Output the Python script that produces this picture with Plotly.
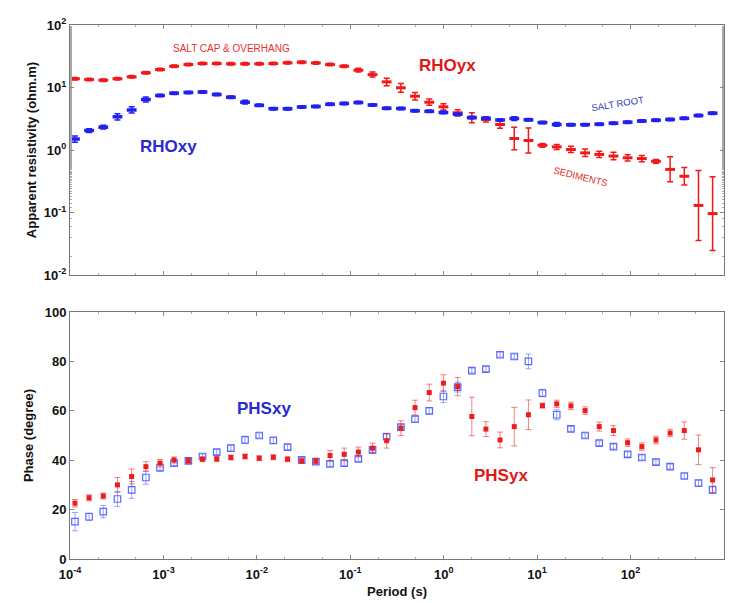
import numpy as np
import plotly.graph_objects as go
from plotly.subplots import make_subplots

# Periods (s)
period = [1.13e-4, 1.60e-4, 2.27e-4, 3.22e-4, 4.57e-4, 6.49e-4, 9.19e-4, 1.30e-3, 1.85e-3, 2.62e-3,
          3.72e-3, 5.27e-3, 7.47e-3, 1.06e-2, 1.50e-2, 2.13e-2, 3.02e-2, 4.28e-2, 6.07e-2, 8.61e-2,
          0.122, 0.173, 0.245, 0.348, 0.493, 0.700, 0.993, 1.41, 2.00, 2.83,
          4.01, 5.69, 8.07, 11.4, 16.2, 23.0, 32.6, 46.2, 65.6, 93.0,
          132, 187, 265, 376, 533, 755]

# Apparent resistivity (ohm.m)
rho_yx = [13.8, 13.4, 13.1, 13.8, 14.8, 17.2, 19.4, 21.9, 23.3, 24.2,
          24.2, 23.9, 23.9, 23.9, 24.2, 24.8, 25.4, 24.7, 23.3, 21.9,
          18.9, 16.1, 12.3, 9.9, 7.26, 5.82, 4.91, 3.94, 3.27, 3.08,
          2.56, 1.53, 1.42, 1.19, 1.12, 1.02, 0.90, 0.85, 0.80, 0.75,
          0.73, 0.66, 0.49, 0.38, 0.13, 0.096]
rho_yx_err_dec = [0.02, 0.02, 0.02, 0.02, 0.02, 0.02, 0.02, 0.02, 0.02, 0.02,
                  0.02, 0.02, 0.02, 0.02, 0.02, 0.02, 0.02, 0.02, 0.02, 0.02,
                  0.03, 0.04, 0.06, 0.07, 0.06, 0.05, 0.05, 0.05, 0.08, 0.04,
                  0.06, 0.18, 0.20, 0.03, 0.04, 0.05, 0.06, 0.05, 0.06, 0.05,
                  0.05, 0.03, 0.20, 0.14, 0.56, 0.59]
rho_xy = [1.50, 2.05, 2.32, 3.40, 4.37, 6.43, 7.45, 8.11, 8.32, 8.47,
          7.73, 7.00, 5.82, 5.19, 4.58, 4.56, 4.88, 4.97, 5.40, 5.55,
          5.75, 5.25, 4.65, 4.61, 4.24, 4.16, 3.98, 3.74, 3.31, 3.23,
          3.02, 3.19, 3.04, 2.75, 2.56, 2.53, 2.54, 2.59, 2.69, 2.79,
          2.91, 3.00, 3.08, 3.21, 3.56, 3.88]
rho_xy_err_dec = [0.05, 0.03, 0.03, 0.05, 0.05, 0.04, 0.02, 0.02, 0.02, 0.02,
                  0.02, 0.02, 0.03, 0.02, 0.02, 0.02, 0.02, 0.02, 0.02, 0.02,
                  0.02, 0.02, 0.02, 0.02, 0.02, 0.02, 0.02, 0.02, 0.02, 0.02,
                  0.02, 0.03, 0.02, 0.02, 0.03, 0.02, 0.02, 0.02, 0.02, 0.02,
                  0.02, 0.02, 0.02, 0.02, 0.02, 0.02]

# Phase (degree)
phs_yx = [22.6, 24.8, 25.5, 30.0, 33.4, 37.4, 38.8, 40.1, 39.8, 40.4,
          40.5, 41.1, 41.5, 40.8, 41.2, 40.4, 39.7, 39.7, 41.9, 42.4,
          43.3, 44.9, 47.9, 53.0, 61.3, 67.4, 71.2, 69.8, 57.7, 52.6,
          48.2, 53.6, 58.4, 62.1, 62.8, 62.0, 60.1, 53.6, 52.0, 47.1,
          45.5, 48.2, 51.0, 52.0, 44.2, 32.0]
phs_yx_err = [1.5, 1.2, 1.2, 3.0, 3.0, 2.0, 1.5, 1.2, 1.0, 1.0,
              1.0, 1.0, 1.0, 1.0, 1.0, 1.0, 1.0, 1.0, 2.0, 2.5,
              2.0, 2.0, 3.0, 3.0, 3.0, 3.4, 3.4, 3.7, 7.8, 3.0,
              3.2, 7.8, 6.0, 1.0, 1.5, 1.5, 1.5, 1.8, 2.0, 1.5,
              1.5, 1.5, 1.5, 3.5, 6.0, 5.0]
phs_xy = [15.1, 17.1, 19.2, 24.3, 28.0, 33.0, 37.0, 38.8, 39.7, 41.5,
          43.3, 44.9, 48.2, 50.0, 48.0, 45.3, 40.1, 39.4, 38.5, 38.8,
          40.5, 44.2, 49.5, 53.4, 56.6, 60.0, 65.8, 69.6, 76.3, 76.9,
          82.7, 82.0, 80.0, 67.2, 58.4, 52.7, 50.0, 46.9, 45.5, 42.4,
          41.1, 39.2, 37.4, 33.6, 30.7, 28.0]
phs_xy_err = [3.7, 1.5, 2.5, 3.0, 3.4, 2.7, 1.5, 1.0, 1.0, 1.0,
              1.0, 1.2, 1.5, 1.0, 1.2, 1.0, 1.0, 1.0, 1.0, 1.0,
              1.0, 1.0, 1.0, 1.0, 1.2, 1.2, 2.5, 2.0, 1.0, 1.0,
              1.0, 1.0, 3.0, 1.5, 2.0, 1.0, 1.0, 1.0, 1.0, 1.0,
              1.0, 1.0, 1.0, 1.0, 1.2, 1.5]

x_tickvals = [1e-4, 1e-3, 1e-2, 1e-1, 1e0, 1e1, 1e2, 1e3]
x_ticktext = ["10<sup>-4</sup>", "10<sup>-3</sup>", "10<sup>-2</sup>", "10<sup>-1</sup>",
              "10<sup>0</sup>", "10<sup>1</sup>", "10<sup>2</sup>", "10<sup>3</sup>"]
rho_tickvals = [1e-2, 1e-1, 1e0, 1e1, 1e2]
rho_ticktext = ["10<sup>-2</sup>", "10<sup>-1</sup>", "10<sup>0</sup>", "10<sup>1</sup>", "10<sup>2</sup>"]
phs_tickvals = [0, 20, 40, 60, 80, 100]

RED = "#f01818"
BLUE = "#2020f0"
PRED = "#ee1c1c"
PBLUE = "#5a68ff"

def log_err(vals, dec):
    v = np.array(vals); d = np.array(dec)
    return list(v * (10 ** d - 1)), list(v * (1 - 10 ** (-d)))

fig = make_subplots(rows=2, cols=1, shared_xaxes=False)

up, dn = log_err(rho_yx, rho_yx_err_dec)
fig.add_trace(go.Scatter(x=period, y=rho_yx, mode="markers",
                         marker=dict(symbol="line-ew", size=7, line=dict(width=3, color=RED)),
                         error_y=dict(type="data", array=up, arrayminus=dn, color=RED, thickness=1.5, width=3),
                         showlegend=False), row=1, col=1)
up, dn = log_err(rho_xy, rho_xy_err_dec)
fig.add_trace(go.Scatter(x=period, y=rho_xy, mode="markers",
                         marker=dict(symbol="line-ew", size=7, line=dict(width=3.5, color=BLUE)),
                         error_y=dict(type="data", array=up, arrayminus=dn, color=BLUE, thickness=1.5, width=3),
                         showlegend=False), row=1, col=1)

fig.add_trace(go.Scatter(x=period, y=phs_xy, mode="markers",
                         marker=dict(symbol="square-open", size=6.5, color=PBLUE, line=dict(width=1.2, color=PBLUE)),
                         error_y=dict(type="data", array=phs_xy_err, color="rgba(90,104,255,0.6)", thickness=1, width=3),
                         showlegend=False), row=2, col=1)
fig.add_trace(go.Scatter(x=period, y=phs_yx, mode="markers",
                         marker=dict(symbol="square", size=5, color=PRED),
                         error_y=dict(type="data", array=phs_yx_err, color="rgba(230,30,30,0.55)", thickness=1, width=3),
                         showlegend=False), row=2, col=1)

axis_common = dict(showline=True, linecolor="#777", linewidth=1, mirror="ticks", ticks="inside",
                   ticklen=4, tickcolor="#888", showgrid=False, zeroline=False,
                   tickfont=dict(family="Liberation Sans, Arial", size=13, color="#111", weight="bold"))

fig.update_xaxes(type="log", range=[-4, 3], tickvals=x_tickvals, ticktext=x_ticktext,
                 minor=dict(ticks="inside", ticklen=2, tickcolor="#aaa"), **axis_common)
fig.update_xaxes(showticklabels=False, row=1, col=1)
fig.update_xaxes(ticklabelstandoff=3,
                 title=dict(text="Period (s)", standoff=6,
                            font=dict(family="Liberation Sans, Arial", size=13, color="#111", weight="bold")),
                 row=2, col=1)
fig.update_yaxes(type="log", range=[-2, 2], tickvals=rho_tickvals, ticktext=rho_ticktext,
                 minor=dict(ticks="inside", ticklen=2, tickcolor="#aaa"),
                 title=dict(text="Apparent resistivity (ohm.m)", standoff=4,
                            font=dict(family="Liberation Sans, Arial", size=13, color="#111", weight="bold")),
                 row=1, col=1, **axis_common)
fig.update_yaxes(range=[0, 100], tickvals=phs_tickvals,
                 title=dict(text="Phase (degree)", standoff=8,
                            font=dict(family="Liberation Sans, Arial", size=13, color="#111", weight="bold")),
                 row=2, col=1, **axis_common)

fig.update_layout(
    width=731, height=603,
    margin=dict(l=70, r=7, t=25, b=44),
    plot_bgcolor="white", paper_bgcolor="white",
    xaxis=dict(domain=[0, 1]), xaxis2=dict(domain=[0, 1]),
    yaxis=dict(domain=[0.5318, 1.0]), yaxis2=dict(domain=[0.0, 0.4625]),
)

def ann(text, x, y, color, size, bold=False, angle=0, xref="x", yref="y"):
    fig.add_annotation(text=text, x=x, y=y, xref=xref, yref=yref, showarrow=False,
                       textangle=angle,
                       font=dict(family="Liberation Sans, Arial", size=size, color=color,
                                 weight="bold" if bold else "normal"))

ann("SALT CAP &amp; OVERHANG", -2.274, 1.624, "#e83030", 10)
ann("RHOyx", 0.041, 1.352, "#e01818", 17, bold=True)
ann("RHOxy", -2.95, 0.056, "#2a2ad0", 17, bold=True)
ann("SALT ROOT", 1.863, 0.744, "#3040c0", 9.5, angle=-9)
ann("SEDIMENTS", 1.466, -0.419, "#e03030", 9.5, angle=14)
ann("PHSxy", -1.921, 60.8, "#2a2ad0", 17, bold=True, xref="x2", yref="y2")
ann("PHSyx", 0.609, 34.0, "#e01818", 17, bold=True, xref="x2", yref="y2")

fig.write_html("out.html")
